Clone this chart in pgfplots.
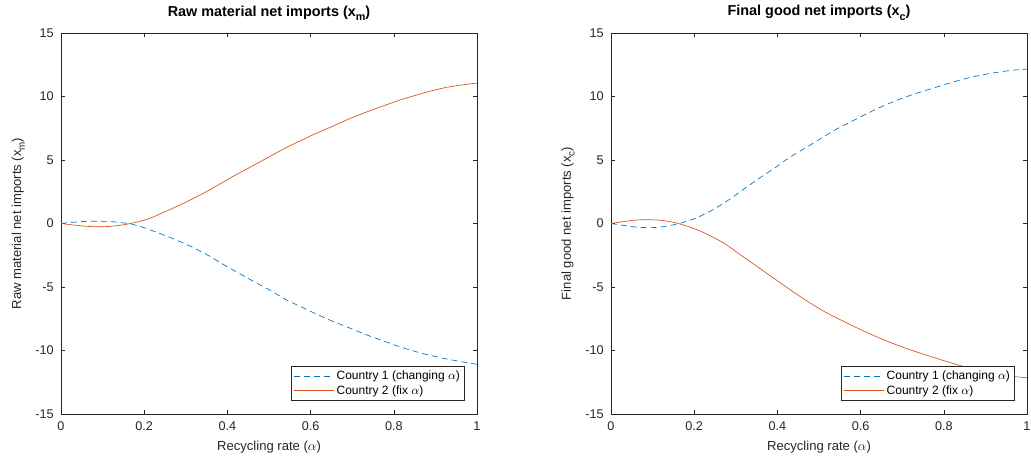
\documentclass[border=0pt]{standalone}
\usepackage{pgfplots}
\pgfplotsset{compat=1.18}
\usepackage{graphicx}
\usepackage{fontspec}
\setmainfont{Liberation Sans}
\definecolor{mblue}{rgb}{0,0.447,0.741}
\definecolor{mred}{rgb}{0.85,0.325,0.098}
\definecolor{axgray}{rgb}{0.15,0.15,0.15}
\newcommand\sub[1]{\raisebox{-0.55ex}{\scalebox{0.75}{#1}}}

\pgfplotsset{mystyle/.style={
  width=312pt, height=285.75pt, scale only axis,
  xmin=0, xmax=1, ymin=-15, ymax=15,
  xtick={0,0.2,0.4,0.6,0.8,1}, ytick={-15,-10,-5,0,5,10,15},
  tick align=inside, major tick length=3pt,
  axis line style={axgray, line width=0.45pt},
  tick style={axgray, line width=0.45pt},
  ticklabel style={font=\fontsize{9.5}{11}\selectfont, text=axgray},
  yticklabel style={xshift=-2pt},
  xticklabel style={/pgf/number format/fixed, yshift=-2.5pt},
  label style={font=\fontsize{9.8}{12}\selectfont, text=axgray},
  xlabel style={yshift=-1pt},
  ylabel style={yshift=1pt},
  title style={font=\bfseries\fontsize{10.8}{13}\selectfont},
  /pgf/number format/assume math mode=true,
  legend style={at={(rel axis cs:0.971,0.034)}, anchor=south east,
    font=\fontsize{9}{11}\selectfont, draw=axgray, line width=0.45pt,
    inner sep=1.5pt, row sep=-1pt},
  legend cell align=left,
  legend image code/.code={\draw[#1] (0pt,0pt) -- (30pt,0pt);},
  every axis plot/.append style={line width=0.5pt, smooth, tension=0.4},
}}

\pgfplotstableread{
a v
0 0
0.03 0.10
0.06 0.17
0.09 0.18
0.12 0.15
0.15 0.05
0.17 -0.05
0.197 -0.30
0.237 -0.78
0.277 -1.30
0.317 -1.88
0.357 -2.57
0.393 -3.28
0.429 -3.94
0.465 -4.60
0.505 -5.30
0.541 -6.00
0.581 -6.62
0.617 -7.18
0.653 -7.70
0.693 -8.22
0.733 -8.75
0.769 -9.18
0.805 -9.60
0.841 -9.98
0.877 -10.30
0.917 -10.60
0.957 -10.85
0.989 -11.03
1.0 -11.08
}\leftblue

\pgfplotstableread{
a v
0 0
0.03 -0.12
0.06 -0.22
0.09 -0.26
0.12 -0.22
0.15 -0.10
0.17 0.02
0.19 0.18
0.213 0.40
0.253 0.97
0.293 1.57
0.333 2.22
0.373 2.94
0.413 3.70
0.453 4.40
0.493 5.12
0.533 5.83
0.573 6.48
0.613 7.09
0.653 7.66
0.693 8.24
0.733 8.76
0.773 9.24
0.813 9.70
0.853 10.10
0.893 10.47
0.933 10.76
0.989 11.02
1.0 11.05
}\leftred

\pgfplotstableread{
a v
0 0
0.03 -0.15
0.06 -0.28
0.09 -0.33
0.12 -0.28
0.15 -0.10
0.17 0.05
0.206 0.45
0.246 1.10
0.282 1.84
0.318 2.68
0.358 3.60
0.394 4.38
0.43 5.22
0.47 6.00
0.507 6.75
0.543 7.45
0.583 8.12
0.619 8.71
0.655 9.27
0.695 9.80
0.731 10.22
0.771 10.62
0.808 11.00
0.844 11.34
0.884 11.65
0.92 11.86
0.96 12.05
0.99 12.13
1.0 12.15
}\rightblue

\pgfplotstableread{
a v
0 0
0.03 0.15
0.06 0.27
0.09 0.30
0.12 0.25
0.15 0.10
0.17 -0.08
0.19 -0.28
0.222 -0.70
0.27 -1.52
0.31 -2.44
0.35 -3.36
0.39 -4.28
0.43 -5.20
0.47 -6.08
0.51 -6.88
0.55 -7.56
0.59 -8.20
0.63 -8.80
0.67 -9.35
0.71 -9.84
0.75 -10.28
0.80 -10.80
0.85 -11.28
0.90 -11.68
0.95 -11.98
1.0 -12.15
}\rightred

\begin{document}
\begin{tikzpicture}
\useasboundingbox (0,0) rectangle (773.25pt,348pt);
\begin{axis}[mystyle, at={(45.75pt,37.5pt)}, anchor=south west,
  title={Raw material net imports (x\sub{m})},
  xlabel={Recycling rate ($\alpha$)},
  ylabel={Raw material net imports (x\sub{m})}]
\addplot[mblue, dash pattern=on 4.5pt off 3pt] table[x=a,y=v] {\leftblue};
\addlegendentry{Country 1 (changing $\alpha$)}
\addplot[mred] table[x=a,y=v] {\leftred};
\addlegendentry{Country 2 (fix $\alpha$)}
\end{axis}
\begin{axis}[mystyle, at={(458.25pt,37.5pt)}, anchor=south west,
  title={Final good net imports (x\sub{c})},
  xlabel={Recycling rate ($\alpha$)},
  ylabel={Final good net imports (x\sub{c})}]
\addplot[mblue, dash pattern=on 4.5pt off 3pt] table[x=a,y=v] {\rightblue};
\addlegendentry{Country 1 (changing $\alpha$)}
\addplot[mred] table[x=a,y=v] {\rightred};
\addlegendentry{Country 2 (fix $\alpha$)}
\end{axis}
\end{tikzpicture}
\end{document}
